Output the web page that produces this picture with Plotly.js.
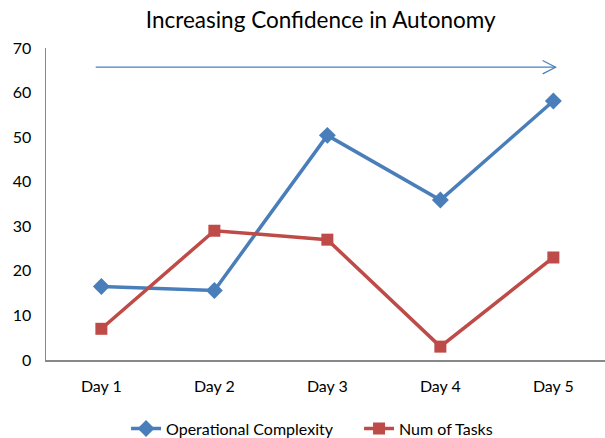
<!DOCTYPE html>
<html><head><meta charset="utf-8">
<script src="https://cdn.plot.ly/plotly-3.0.1.min.js"></script>
<style>html,body{margin:0;padding:0;background:#fff}</style>
</head><body><div id="chart" style="width:605px;height:438px"></div>
<script>
const days = ["Day 1", "Day 2", "Day 3", "Day 4", "Day 5"];
const operationalComplexity = [16.5, 15.6, 50.4, 35.9, 58.1];
const numOfTasks = [7.0, 29.0, 27.0, 3.0, 23.0];
const yTicks = [0, 10, 20, 30, 40, 50, 60, 70];

const FONT = "Lato, 'Open Sans', sans-serif";
const traces = [
  {x: days.map((d,i)=>i), y: operationalComplexity, name: "Operational Complexity", mode: "lines+markers",
   line: {color: "#4A7EBB", width: 3.5}, marker: {symbol: "diamond", size: 13, color: "#4A7EBB"}},
  {x: days.map((d,i)=>i), y: numOfTasks, name: "Num of Tasks", mode: "lines+markers",
   line: {color: "#BE4B48", width: 3.5}, marker: {symbol: "square", size: 12, color: "#BE4B48"}}
];
const layout = {
  width: 605, height: 438,
  margin: {l: 46, r: 0, t: 48, b: 78, autoexpand: false},
  paper_bgcolor: "#fff", plot_bgcolor: "#fff",
  font: {family: FONT, size: 16, color: "#000"},
  title: {text: "Increasing Confidence in Autonomy", x: 0.53, xanchor: "center", y: 0.955, yanchor: "middle",
          font: {family: FONT, size: 22.5, color: "#000"}},
  xaxis: {range: [-0.49, 4.457], tickmode: "array", tickvals: days.map((d,i)=>i), ticktext: days,
          showgrid: false, zeroline: false, showline: true, linecolor: "#888", linewidth: 1.5,
          ticks: "", ticklabelstandoff: 11, fixedrange: true, tickfont: {size: 16}},
  yaxis: {range: [0, 70], tickmode: "array", tickvals: yTicks, showgrid: false, zeroline: false,
          showline: true, linecolor: "#888", linewidth: 1.5, ticks: "", ticklabelstandoff: 10, fixedrange: true,
          tickfont: {size: 16}},
  showlegend: true,
  legend: {orientation: "h", x: 0.56, xanchor: "center", y: -0.22, yanchor: "middle",
           font: {family: FONT, size: 16}, itemwidth: 30, tracegroupgap: 0, entrywidth: 188},
  shapes: [
    {type: "line", xref: "x", yref: "y", x0: -0.05, x1: 4.02, y0: 65.7, y1: 65.7,
     line: {color: "#4A7EBB", width: 1.2}},
    {type: "path", xref: "x", yref: "y", path: "M 3.905 67.2 L 4.02 65.7 L 3.905 64.2",
     line: {color: "#4A7EBB", width: 1.2}}
  ]
};
Plotly.newPlot("chart", traces, layout, {displayModeBar: false, staticPlot: true});
</script></body></html>
